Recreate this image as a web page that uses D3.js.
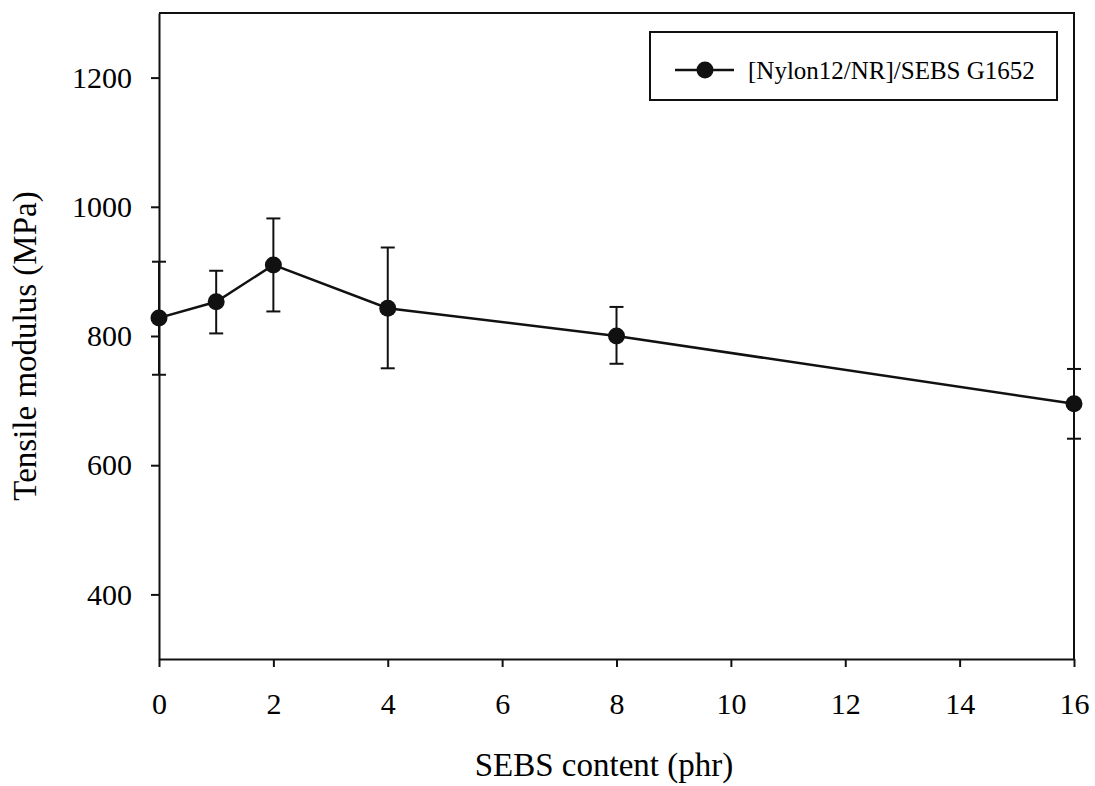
<!DOCTYPE html>
<html>
<head>
<meta charset="utf-8">
<script src="https://cdn.jsdelivr.net/npm/d3@7"></script>
<style>
  body { margin: 0; background: #fff; }
  text { font-family: "Liberation Serif", "Times New Roman", serif; fill: #000; }
</style>
</head>
<body>
<div id="chart"></div>
<script>
// data
var sebs = [0, 1, 2, 4, 8, 16];
var modulus = [828, 853, 910, 843, 800, 695];
var errUp = [87, 48, 72, 94, 45, 54];
var errDown = [88, 49, 72, 93, 43, 54];
var xTicks = [0, 2, 4, 6, 8, 10, 12, 14, 16];
var yTicks = [400, 600, 800, 1000, 1200];
var seriesName = "[Nylon12/NR]/SEBS G1652";

var width = 1095, height = 786;
var margin = {top: 13, right: 21, bottom: 127, left: 159};
var w = width - margin.left - margin.right;
var h = height - margin.top - margin.bottom;

var svg = d3.select("#chart").append("svg")
  .attr("width", width)
  .attr("height", height);

var g = svg.append("g")
  .attr("transform", "translate(" + margin.left + "," + margin.top + ")");

var x = d3.scaleLinear().domain([0, 16]).range([0, w]);
var y = d3.scaleLinear().domain([300, 1300]).range([h, 0]);

// frame (top + right)
g.append("path")
  .attr("d", "M0,0H" + w + "V" + h)
  .style("fill", "none")
  .style("stroke", "#111")
  .style("stroke-width", 2);

var xAxis = g.append("g")
  .attr("transform", "translate(0," + h + ")")
  .call(d3.axisBottom(x).tickValues(xTicks).tickFormat(d3.format("d"))
    .tickSize(8).tickPadding(26).tickSizeOuter(0));

var yAxis = g.append("g")
  .call(d3.axisLeft(y).tickValues(yTicks).tickFormat(d3.format("d"))
    .tickSize(8).tickPadding(19).tickSizeOuter(0));

[xAxis, yAxis].forEach(function(a) {
  a.attr("font-family", "Liberation Serif").attr("font-size", 30);
  a.select(".domain").style("stroke", "#111").style("stroke-width", 2);
  a.selectAll(".tick line").style("stroke", "#111").style("stroke-width", 2);
  a.selectAll(".tick text").style("fill", "#000");
});

// axis titles
svg.append("text")
  .attr("x", 604)
  .attr("y", 776)
  .attr("text-anchor", "middle")
  .style("font-size", "33px")
  .text("SEBS content (phr)");

svg.append("text")
  .attr("transform", "translate(36,346) rotate(-90)")
  .attr("text-anchor", "middle")
  .style("font-size", "33px")
  .text("Tensile modulus (MPa)");

var pts = sebs.map(function(s, i) {
  return {x: s, y: modulus[i], hi: modulus[i] + errUp[i], lo: modulus[i] - errDown[i]};
});

// error bars
var eb = g.selectAll(".err").data(pts).enter().append("g").attr("class", "err");
eb.append("line")
  .attr("x1", function(d) { return x(d.x); })
  .attr("x2", function(d) { return x(d.x); })
  .attr("y1", function(d) { return y(d.hi); })
  .attr("y2", function(d) { return y(d.lo); });
eb.append("line")
  .attr("x1", function(d) { return x(d.x) - 7; })
  .attr("x2", function(d) { return x(d.x) + 7; })
  .attr("y1", function(d) { return y(d.hi); })
  .attr("y2", function(d) { return y(d.hi); });
eb.append("line")
  .attr("x1", function(d) { return x(d.x) - 7; })
  .attr("x2", function(d) { return x(d.x) + 7; })
  .attr("y1", function(d) { return y(d.lo); })
  .attr("y2", function(d) { return y(d.lo); });
eb.selectAll("line").style("stroke", "#111").style("stroke-width", 2);

var line = d3.line()
  .x(function(d) { return x(d.x); })
  .y(function(d) { return y(d.y); });

g.append("path")
  .datum(pts)
  .attr("d", line)
  .style("fill", "none")
  .style("stroke", "#111")
  .style("stroke-width", 2.5);

g.selectAll(".dot").data(pts).enter().append("circle")
  .attr("class", "dot")
  .attr("cx", function(d) { return x(d.x); })
  .attr("cy", function(d) { return y(d.y); })
  .attr("r", 8.5)
  .style("fill", "#111");

// legend
var leg = svg.append("g").attr("transform", "translate(650,32)");
leg.append("rect")
  .attr("width", 407)
  .attr("height", 68)
  .style("fill", "#fff")
  .style("stroke", "#111")
  .style("stroke-width", 2);
leg.append("line")
  .attr("x1", 25).attr("x2", 84)
  .attr("y1", 38).attr("y2", 38)
  .style("stroke", "#111")
  .style("stroke-width", 2.5);
leg.append("circle")
  .attr("cx", 55).attr("cy", 38).attr("r", 8.5)
  .style("fill", "#111");
leg.append("text")
  .attr("x", 98).attr("y", 47)
  .style("font-size", "25px")
  .text(seriesName);
</script>
</body>
</html>
